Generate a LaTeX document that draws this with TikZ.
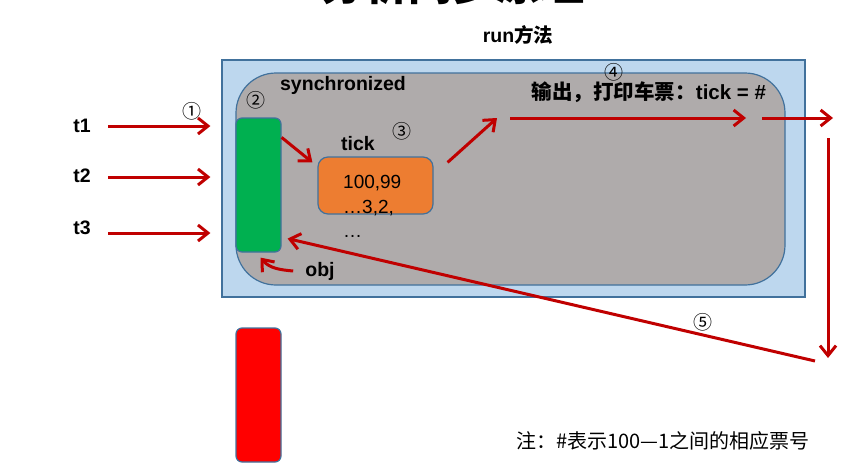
\documentclass[tikz,border=0pt]{standalone}
\usepackage{fontspec}
\usepackage{tikz}
\usetikzlibrary{arrows.meta}
\setmainfont{Liberation Sans}
\newfontfamily\cjk{Noto Sans CJK SC}
\definecolor{outerblue}{HTML}{BDD7EE}
\definecolor{edgeblue}{HTML}{41719C}
\definecolor{innergray}{HTML}{AFABAB}
\definecolor{greenbar}{HTML}{00B050}
\definecolor{orangebox}{HTML}{ED7D31}
\definecolor{arrowred}{HTML}{C00000}
\definecolor{redbar}{HTML}{FF0000}

\tikzset{
  lbl/.style={font=\fontsize{19.5}{22}\selectfont\bfseries,inner sep=0pt},
  numtxt/.style={font=\fontsize{19}{22}\selectfont,inner sep=0pt},
  circnum/.style={font=\cjk\fontsize{19}{22}\selectfont,inner sep=0pt},
  redarrow/.style={draw=arrowred,line width=3pt,-{Straight Barb[length=10pt,width=16pt]}},
  bar/.style={draw=edgeblue,line width=1.2pt,rounded corners=6pt,minimum width=45pt,minimum height=134pt,inner sep=0pt},
}

\begin{document}
\begin{tikzpicture}[x=1pt,y=-1pt]
\useasboundingbox (0,0) rectangle (862,469);
\clip (0,0) rectangle (862,469);
% title, cut off at the top
\node[font=\cjk\fontsize{44}{48}\selectfont\bfseries,inner sep=0pt] (title) at (452,-16) {分析同步原理};
\node[lbl] (run) at (518,35) {run{\cjk 方法}};
% boxes
\node[draw=edgeblue,fill=outerblue,line width=1.2pt,minimum width=583pt,minimum height=237pt,inner sep=0pt] (outer) at (513.5,178.5) {};
\node[draw=edgeblue,fill=innergray,line width=1.2pt,rounded corners=40pt,minimum width=549pt,minimum height=212pt,inner sep=0pt] (inner) at (510.5,179) {};
\node[bar,fill=greenbar] (green) at (258.5,185) {};
\node[bar,fill=redbar] (red) at (258.5,395) {};
\node[draw=edgeblue,fill=orangebox,line width=1.2pt,rounded corners=10pt,minimum width=115pt,minimum height=57pt,inner sep=0pt] (tickbox) at (375.5,185.5) {};
% texts
\node[lbl] (sync) at (343,85) {synchronized};
\node[lbl] (tick) at (358,144) {tick};
\node[numtxt,anchor=base west] (nums1) at (343,188) {100,99};
\node[numtxt,anchor=base west] (nums2) at (343,213) {…3,2,};
\node[numtxt,anchor=base west] (nums3) at (343,237) {…};
\node[lbl] (obj) at (320,271) {obj};
\node[lbl,font=\fontsize{20.5}{22}\selectfont\bfseries] (print) at (649,92) {{\cjk 输出，打印车票：}tick = \#};
\node[lbl] (t1) at (82,126) {t1};
\node[lbl] (t2) at (82,176) {t2};
\node[lbl] (t3) at (82,228) {t3};
\node[circnum] (c1) at (192,111) {①};
\node[circnum] (c2) at (256,100) {②};
\node[circnum] (c3) at (402,131) {③};
\node[circnum] (c4) at (614,72) {④};
\node[circnum] (c5) at (703,322) {⑤};
\node[numtxt,font=\cjk\fontsize{20}{22}\selectfont] (note) at (663,441) {注：\#表示100—1之间的相应票号};
% connectors
\coordinate (p1) at (510,118);
\coordinate (p2) at (746,118);
\coordinate (p3) at (762,118);
\coordinate (p4) at (833,118);
\coordinate (p5) at (828,138);
\coordinate (p6) at (828,358);
\coordinate (p7) at (815,361);
\draw[redarrow] ([xshift=17.5pt]t1.east) -- ++(102,0);
\draw[redarrow] ([xshift=17.5pt,yshift=-1pt]t2.east) -- ++(102,0);
\draw[redarrow] ([xshift=17.5pt,yshift=-5pt]t3.east) -- ++(102,0);
\draw[redarrow] ([yshift=-20pt]green.north east) -- ([xshift=-5pt,yshift=-6pt]tickbox.north west);
\draw[redarrow] ([xshift=14pt,yshift=-6pt]tickbox.north east) -- ([xshift=-13pt]p1);
\draw[redarrow] (p1) -- (p2);
\draw[redarrow] (p3) -- (p4);
\draw[redarrow] (p5) -- (p6);
\draw[redarrow] (p7) -- ([xshift=6pt,yshift=14pt]green.south east);
\draw[redarrow] ([xshift=-12pt]obj.west) to[out=175,in=-50] ([xshift=2pt,yshift=-5pt]green.south);
\end{tikzpicture}
\end{document}
